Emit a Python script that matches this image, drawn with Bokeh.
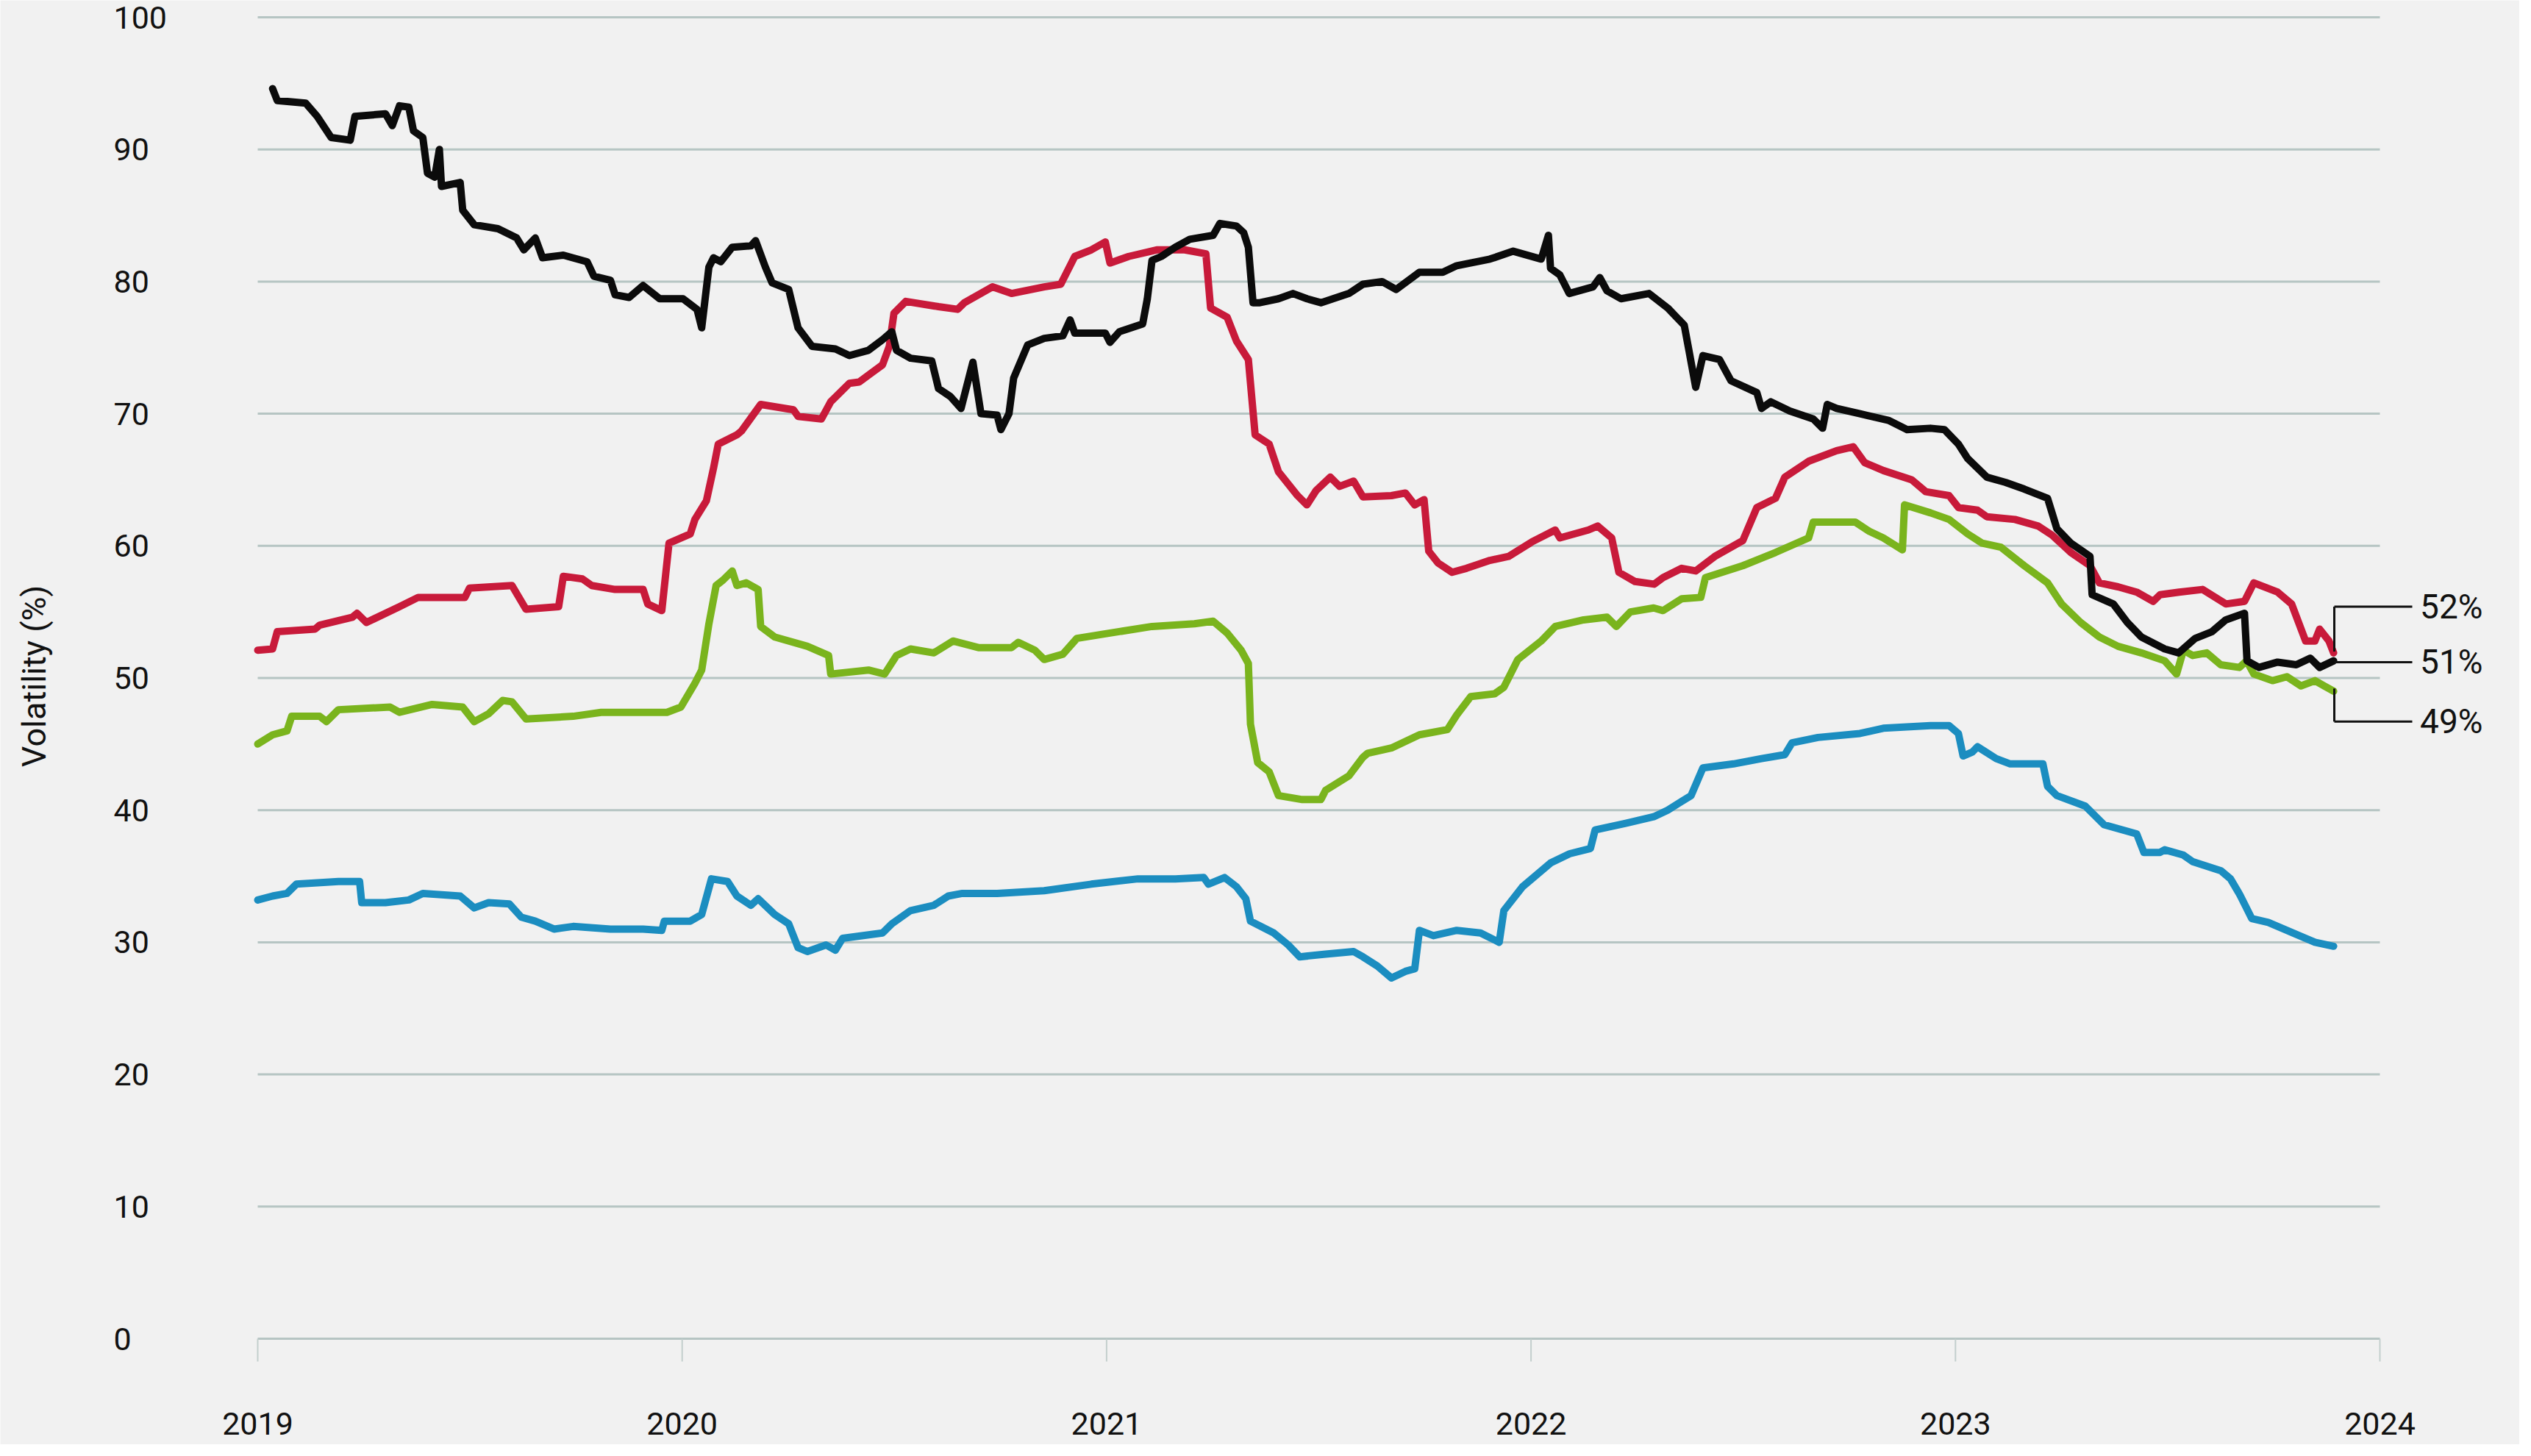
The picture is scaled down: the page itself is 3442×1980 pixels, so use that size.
import math
from bokeh.plotting import figure
from bokeh.models import Range1d
from bokeh.core.properties import value
from bokeh.embed import file_html
from bokeh.resources import INLINE

# ---------------- data (decimal year, volatility %) ----------------
black_x = [2019.035, 2019.046, 2019.113, 2019.140, 2019.173, 2019.218, 2019.229, 2019.301, 2019.317, 2019.334,
           2019.356, 2019.367, 2019.389, 2019.400, 2019.417, 2019.428, 2019.433, 2019.477, 2019.483, 2019.510,
           2019.566, 2019.610, 2019.627, 2019.654, 2019.671, 2019.720, 2019.776, 2019.792, 2019.831, 2019.842,
           2019.875, 2019.908, 2019.947, 2020.002, 2020.035, 2020.046, 2020.063, 2020.074, 2020.091, 2020.118,
           2020.162, 2020.173, 2020.196, 2020.212, 2020.251, 2020.273, 2020.306, 2020.361, 2020.394, 2020.439,
           2020.472, 2020.494, 2020.505, 2020.538, 2020.588, 2020.604, 2020.632, 2020.657, 2020.685, 2020.704,
           2020.742, 2020.751, 2020.770, 2020.781, 2020.814, 2020.853, 2020.897, 2020.914, 2020.925, 2020.997,
           2021.008, 2021.030, 2021.085, 2021.096, 2021.107, 2021.129, 2021.162, 2021.196, 2021.251, 2021.267,
           2021.306, 2021.323, 2021.334, 2021.345, 2021.361, 2021.405, 2021.439, 2021.472, 2021.505, 2021.571,
           2021.604, 2021.649, 2021.682, 2021.737, 2021.792, 2021.825, 2021.903, 2021.958, 2022.024, 2022.041,
           2022.046, 2022.068, 2022.090, 2022.146, 2022.162, 2022.179, 2022.212, 2022.278, 2022.322, 2022.361,
           2022.372, 2022.388, 2022.405, 2022.444, 2022.471, 2022.532, 2022.543, 2022.565, 2022.610, 2022.665,
           2022.687, 2022.698, 2022.720, 2022.775, 2022.842, 2022.886, 2022.941, 2022.974, 2023.007, 2023.029,
           2023.074, 2023.118, 2023.162, 2023.217, 2023.239, 2023.272, 2023.317, 2023.322, 2023.372, 2023.405,
           2023.438, 2023.493, 2023.526, 2023.565, 2023.604, 2023.637, 2023.681, 2023.687, 2023.715, 2023.759,
           2023.803, 2023.836, 2023.858, 2023.891]
black_y = [94.6, 93.7, 93.5, 92.5, 90.9, 90.7, 92.5, 92.7, 91.8, 93.3,
           93.2, 91.4, 90.9, 88.2, 87.9, 90.0, 87.2, 87.5, 85.4, 84.3,
           84.0, 83.3, 82.4, 83.3, 81.8, 82.0, 81.5, 80.4, 80.1, 79.0,
           78.8, 79.7, 78.7, 78.7, 77.9, 76.5, 81.1, 81.8, 81.5, 82.6,
           82.7, 83.1, 81.1, 79.9, 79.4, 76.5, 75.1, 74.9, 74.4, 74.8,
           75.6, 76.2, 74.8, 74.2, 74.0, 71.9, 71.3, 70.4, 73.9, 70.0,
           69.9, 68.8, 70.0, 72.7, 75.2, 75.7, 75.9, 77.1, 76.1, 76.1,
           75.4, 76.2, 76.8, 78.7, 81.6, 81.9, 82.6, 83.2, 83.5, 84.4,
           84.2, 83.7, 82.6, 78.4, 78.4, 78.7, 79.1, 78.7, 78.4, 79.1,
           79.8, 80.0, 79.4, 80.7, 80.7, 81.2, 81.7, 82.3, 81.7, 83.5,
           81.0, 80.5, 79.1, 79.6, 80.3, 79.3, 78.7, 79.1, 78.0, 76.7,
           74.8, 72.0, 74.4, 74.1, 72.5, 71.6, 70.4, 70.9, 70.2, 69.6,
           68.9, 70.7, 70.4, 70.0, 69.5, 68.8, 68.9, 68.8, 67.7, 66.6,
           65.2, 64.8, 64.3, 63.6, 61.3, 60.2, 59.2, 56.3, 55.6, 54.2,
           53.1, 52.2, 51.9, 53.0, 53.5, 54.4, 54.9, 51.3, 50.8, 51.2,
           51.0, 51.5, 50.8, 51.3]

red_x = [2019.000, 2019.035, 2019.046, 2019.135, 2019.146, 2019.223, 2019.234, 2019.256, 2019.334, 2019.378,
         2019.488, 2019.499, 2019.599, 2019.632, 2019.709, 2019.720, 2019.765, 2019.787, 2019.842, 2019.908,
         2019.919, 2019.952, 2019.969, 2020.019, 2020.030, 2020.057, 2020.074, 2020.085, 2020.129, 2020.140,
         2020.185, 2020.262, 2020.273, 2020.328, 2020.350, 2020.394, 2020.417, 2020.472, 2020.488, 2020.499,
         2020.527, 2020.604, 2020.649, 2020.665, 2020.731, 2020.776, 2020.853, 2020.892, 2020.925, 2020.964,
         2020.997, 2021.008, 2021.052, 2021.118, 2021.184, 2021.234, 2021.245, 2021.284, 2021.306, 2021.334,
         2021.350, 2021.383, 2021.405, 2021.450, 2021.472, 2021.494, 2021.527, 2021.549, 2021.582, 2021.604,
         2021.671, 2021.704, 2021.726, 2021.748, 2021.759, 2021.781, 2021.814, 2021.848, 2021.903, 2021.947,
         2022.002, 2022.057, 2022.068, 2022.135, 2022.157, 2022.190, 2022.207, 2022.245, 2022.290, 2022.311,
         2022.355, 2022.388, 2022.433, 2022.499, 2022.532, 2022.576, 2022.598, 2022.654, 2022.720, 2022.759,
         2022.786, 2022.830, 2022.897, 2022.930, 2022.985, 2023.007, 2023.052, 2023.074, 2023.140, 2023.195,
         2023.228, 2023.272, 2023.317, 2023.339, 2023.383, 2023.427, 2023.466, 2023.482, 2023.527, 2023.582,
         2023.637, 2023.681, 2023.703, 2023.759, 2023.792, 2023.825, 2023.847, 2023.858, 2023.880, 2023.891]
red_y = [52.1, 52.2, 53.5, 53.7, 54.0, 54.6, 54.9, 54.2, 55.4, 56.1,
         56.1, 56.8, 57.0, 55.2, 55.4, 57.7, 57.5, 57.0, 56.7, 56.7,
         55.6, 55.1, 60.2, 60.9, 62.0, 63.4, 65.9, 67.7, 68.4, 68.7,
         70.7, 70.3, 69.8, 69.6, 70.9, 72.3, 72.4, 73.7, 75.1, 77.6,
         78.5, 78.1, 77.9, 78.4, 79.6, 79.1, 79.6, 79.8, 81.9, 82.4,
         83.0, 81.4, 81.9, 82.4, 82.4, 82.1, 78.0, 77.3, 75.5, 74.1,
         68.4, 67.7, 65.6, 63.8, 63.1, 64.2, 65.2, 64.5, 64.9, 63.7,
         63.8, 64.0, 63.1, 63.5, 59.6, 58.7, 58.0, 58.3, 58.9, 59.2,
         60.3, 61.2, 60.6, 61.2, 61.5, 60.6, 58.0, 57.3, 57.1, 57.6,
         58.3, 58.1, 59.2, 60.4, 62.9, 63.6, 65.2, 66.4, 67.2, 67.5,
         66.3, 65.7, 65.0, 64.1, 63.8, 62.9, 62.7, 62.2, 62.0, 61.5,
         60.8, 59.5, 58.5, 57.2, 56.9, 56.5, 55.8, 56.3, 56.5, 56.7,
         55.6, 55.8, 57.2, 56.5, 55.6, 52.8, 52.8, 53.7, 52.8, 51.9]

green_x = [2019.000, 2019.035, 2019.069, 2019.080, 2019.146, 2019.162, 2019.190, 2019.312, 2019.334, 2019.411,
           2019.483, 2019.510, 2019.544, 2019.577, 2019.599, 2019.632, 2019.743, 2019.809, 2019.964, 2019.997,
           2020.030, 2020.046, 2020.063, 2020.080, 2020.096, 2020.118, 2020.129, 2020.151, 2020.179, 2020.185,
           2020.218, 2020.295, 2020.345, 2020.350, 2020.439, 2020.477, 2020.505, 2020.538, 2020.593, 2020.638,
           2020.698, 2020.776, 2020.792, 2020.831, 2020.853, 2020.897, 2020.930, 2021.008, 2021.107, 2021.207,
           2021.251, 2021.284, 2021.317, 2021.334, 2021.339, 2021.356, 2021.383, 2021.405, 2021.461, 2021.505,
           2021.516, 2021.571, 2021.604, 2021.615, 2021.671, 2021.737, 2021.803, 2021.825, 2021.858, 2021.914,
           2021.936, 2021.969, 2022.024, 2022.057, 2022.124, 2022.179, 2022.201, 2022.234, 2022.289, 2022.311,
           2022.355, 2022.400, 2022.411, 2022.499, 2022.576, 2022.654, 2022.665, 2022.764, 2022.797, 2022.830,
           2022.875, 2022.880, 2022.941, 2022.985, 2023.029, 2023.063, 2023.107, 2023.162, 2023.217, 2023.250,
           2023.295, 2023.339, 2023.383, 2023.438, 2023.493, 2023.521, 2023.537, 2023.559, 2023.592, 2023.625,
           2023.669, 2023.686, 2023.703, 2023.747, 2023.781, 2023.814, 2023.847, 2023.869, 2023.891]
green_y = [45.0, 45.7, 46.0, 47.1, 47.1, 46.7, 47.6, 47.8, 47.4, 48.0,
           47.8, 46.7, 47.3, 48.3, 48.2, 46.9, 47.1, 47.4, 47.4, 47.8,
           49.6, 50.6, 54.1, 57.0, 57.4, 58.1, 57.0, 57.2, 56.7, 53.9,
           53.1, 52.4, 51.7, 50.3, 50.6, 50.3, 51.7, 52.2, 51.9, 52.8,
           52.3, 52.3, 52.7, 52.1, 51.4, 51.8, 53.0, 53.4, 53.9, 54.1,
           54.3, 53.4, 52.1, 51.1, 46.5, 43.6, 42.9, 41.1, 40.8, 40.8,
           41.5, 42.6, 44.0, 44.3, 44.7, 45.7, 46.1, 47.2, 48.6, 48.8,
           49.3, 51.4, 52.8, 53.9, 54.4, 54.6, 53.9, 55.0, 55.3, 55.1,
           56.0, 56.1, 57.6, 58.5, 59.5, 60.6, 61.8, 61.8, 61.1, 60.6,
           59.7, 63.1, 62.5, 62.0, 60.9, 60.2, 59.9, 58.5, 57.2, 55.6,
           54.2, 53.1, 52.4, 51.9, 51.3, 50.3, 52.1, 51.7, 51.9, 51.0,
           50.8, 51.3, 50.3, 49.8, 50.1, 49.4, 49.8, 49.4, 49.0]

blue_x = [2019.000, 2019.035, 2019.069, 2019.091, 2019.190, 2019.240, 2019.245, 2019.301, 2019.356, 2019.389,
          2019.477, 2019.510, 2019.544, 2019.593, 2019.621, 2019.654, 2019.698, 2019.743, 2019.831, 2019.908,
          2019.952, 2019.958, 2020.019, 2020.046, 2020.069, 2020.107, 2020.129, 2020.162, 2020.179, 2020.218,
          2020.251, 2020.273, 2020.295, 2020.339, 2020.361, 2020.378, 2020.472, 2020.494, 2020.538, 2020.593,
          2020.627, 2020.660, 2020.742, 2020.853, 2020.964, 2021.074, 2021.162, 2021.229, 2021.240, 2021.278,
          2021.306, 2021.328, 2021.339, 2021.394, 2021.428, 2021.455, 2021.516, 2021.582, 2021.604, 2021.638,
          2021.671, 2021.704, 2021.726, 2021.737, 2021.770, 2021.825, 2021.881, 2021.925, 2021.936, 2021.980,
          2022.046, 2022.091, 2022.140, 2022.151, 2022.223, 2022.289, 2022.322, 2022.377, 2022.405, 2022.477,
          2022.543, 2022.598, 2022.615, 2022.676, 2022.775, 2022.830, 2022.941, 2022.985, 2023.007, 2023.018,
          2023.040, 2023.052, 2023.096, 2023.129, 2023.206, 2023.217, 2023.239, 2023.306, 2023.350, 2023.427,
          2023.444, 2023.482, 2023.493, 2023.537, 2023.559, 2023.626, 2023.648, 2023.670, 2023.698, 2023.737,
          2023.803, 2023.847, 2023.891]
blue_y = [33.2, 33.5, 33.7, 34.4, 34.6, 34.6, 33.0, 33.0, 33.2, 33.7,
          33.5, 32.6, 33.0, 32.9, 31.9, 31.6, 31.0, 31.2, 31.0, 31.0,
          30.9, 31.6, 31.6, 32.1, 34.8, 34.6, 33.5, 32.8, 33.3, 32.1,
          31.4, 29.6, 29.3, 29.8, 29.4, 30.3, 30.7, 31.4, 32.4, 32.8,
          33.5, 33.7, 33.7, 33.9, 34.4, 34.8, 34.8, 34.9, 34.4, 34.9,
          34.2, 33.3, 31.6, 30.7, 29.8, 28.9, 29.1, 29.3, 28.9, 28.2,
          27.3, 27.8, 28.0, 30.9, 30.5, 30.9, 30.7, 30.0, 32.4, 34.2,
          36.0, 36.7, 37.1, 38.5, 39.0, 39.5, 40.0, 41.1, 43.2, 43.5,
          43.9, 44.2, 45.1, 45.5, 45.8, 46.2, 46.4, 46.4, 45.8, 44.1,
          44.4, 44.8, 43.9, 43.5, 43.5, 41.8, 41.1, 40.3, 38.9, 38.2,
          36.8, 36.8, 37.0, 36.6, 36.1, 35.4, 34.8, 33.6, 31.8, 31.5,
          30.6, 30.0, 29.7]

y_ticks = [0, 10, 20, 30, 40, 50, 60, 70, 80, 90, 100]
x_ticks = [2019, 2020, 2021, 2022, 2023, 2024]
x_tick_labels = ["2019", "2020", "2021", "2022", "2023", "2024"]
end_labels = ["52%", "51%", "49%"]
end_label_levels = [55.4, 51.2, 46.7]   # where each leader line ends
end_line_from = [52.0, 51.2, 49.2]      # where each leader leaves the series end
y_title = "Volatility (%)"

# ---------------- styling / layout ----------------
BG = "#f1f1f1"
GRID = "#b6c5c3"
TICK = "#c3cfcd"
TEXT = "#111111"
FONT = "Roboto"
COL = {"black": "#0b0b0b", "red": "#c81a3a", "green": "#7ab41d", "blue": "#1b8dc0"}

PX_PER_YEAR = 577.2      # horizontal pixels per year
PX_PER_UNIT = 17.97      # vertical pixels per volatility point
W, H = 3426, 1964        # canvas (frame fills it)
ZERO_PX = 1820           # canvas row of the 0 line


def yr(px):  # reference pixel column -> data x
    return 2019 + (px - 358) / PX_PER_YEAR


def below(px):  # pixels below the 0 line -> data y
    return -px / PX_PER_UNIT


x0 = yr(8)
x1 = x0 + W / PX_PER_YEAR
y0 = below(H - ZERO_PX)
y1 = y0 + H / PX_PER_UNIT

p = figure(frame_width=W, frame_height=H,
           x_range=Range1d(x0, x1), y_range=Range1d(y0, y1),
           output_backend="svg", toolbar_location=None,
           min_border_left=0, min_border_right=0, min_border_top=0, min_border_bottom=0)
p.background_fill_color = BG
p.border_fill_color = BG
p.outline_line_color = None
p.xgrid.visible = False
p.ygrid.visible = False
p.xaxis.visible = False
p.yaxis.visible = False

# horizontal grid lines between 2019 and 2024
p.segment(x0=[x_ticks[0]] * len(y_ticks), x1=[x_ticks[-1]] * len(y_ticks),
          y0=y_ticks, y1=y_ticks, line_color=GRID, line_width=3)

# x ticks hanging below the 0 line, and their labels
p.segment(x0=x_ticks, x1=x_ticks, y0=[0] * len(x_ticks), y1=[below(31)] * len(x_ticks),
          line_color=TICK, line_width=2)
p.text(x=x_ticks, y=[below(115)] * len(x_ticks), text=x_tick_labels,
       text_font=value(FONT), text_font_size="43px", text_color=TEXT,
       text_align="center", text_baseline="middle")

# y tick labels (left aligned, as in the original)
p.text(x=[yr(162)] * len(y_ticks), y=y_ticks, text=[str(t) for t in y_ticks],
       text_font=value(FONT), text_font_size="43px", text_color=TEXT,
       text_align="left", text_baseline="middle")

# y axis title
p.text(x=[yr(54)], y=[(1828 - 927) / PX_PER_UNIT], text=[y_title],
       angle=math.pi / 2, text_font=value(FONT), text_font_size="45px", text_color=TEXT,
       text_align="center", text_baseline="middle")

# series
for xs, ys, c in [(blue_x, blue_y, COL["blue"]), (green_x, green_y, COL["green"]),
                  (red_x, red_y, COL["red"]), (black_x, black_y, COL["black"])]:
    p.line(xs, ys, line_color=c, line_width=10, line_join="round", line_cap="round")

# end-value leader lines and labels
bx = yr(3182)
hx = yr(3288)
p.segment(x0=[bx] * 3, x1=[bx] * 3, y0=end_line_from, y1=end_label_levels,
          line_color="#111111", line_width=3)
p.segment(x0=[bx] * 3, x1=[hx] * 3, y0=end_label_levels, y1=end_label_levels,
          line_color="#111111", line_width=3)
p.text(x=[yr(3384)] * 3, y=end_label_levels, text=end_labels,
       text_font=value(FONT), text_font_size="46px", text_color=TEXT,
       text_align="right", text_baseline="middle")

open("out.html", "w").write(file_html(p, INLINE))
